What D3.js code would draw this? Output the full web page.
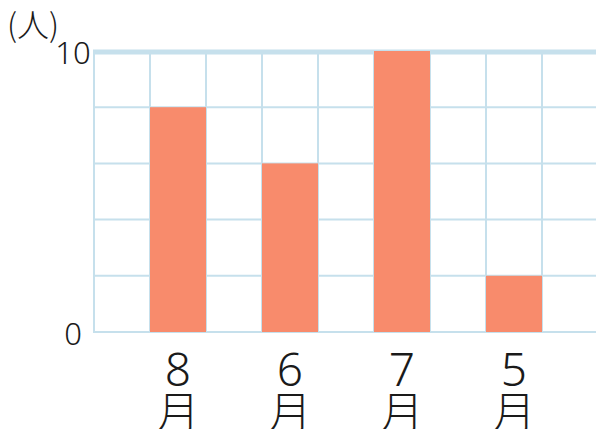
<!DOCTYPE html>
<html>
<head>
<meta charset="utf-8">
<script src="https://cdn.jsdelivr.net/npm/d3@7"></script>
<style>
  body { margin: 0; background: #fff; }
  text { font-family: "Noto Sans", "Noto Sans CJK JP", sans-serif; font-weight: 300; fill: #1a1a1a; }
  text.cjk { font-family: "Noto Sans CJK JP", sans-serif; }
</style>
</head>
<body>
<svg width="596" height="429" id="mainsvg"></svg>
<script>
    // data
    const months = ['8', '6', '7', '5'];
    const people = [8, 6, 10, 2];
    const yTicks = [0, 10];
    const yGrid = [0, 2, 4, 6, 8, 10];
    const unitLabel = '(人)';
    const monthSuffix = '月';

    const svg = d3.select('svg');
    const width = +svg.attr('width');

    const x = d3.scaleLinear().domain([0, 9]).range([94, 598]);
    const y = d3.scaleLinear().domain([0, 10]).range([332, 51]);
    const gridColor = '#c6e0ec';

    const grid = svg.append('g');
    // horizontal grid
    grid.selectAll('line.h').data(yGrid.filter(d => d < 10)).join('line')
        .attr('class', 'h')
        .attr('x1', x(0)).attr('x2', width)
        .attr('y1', d => y(d)).attr('y2', d => y(d))
        .attr('stroke', gridColor).attr('stroke-width', 2);
    // vertical grid
    grid.selectAll('line.v').data(d3.range(0, 9)).join('line')
        .attr('class', 'v')
        .attr('x1', d => x(d)).attr('x2', d => x(d))
        .attr('y1', y(10)).attr('y2', y(0) + 1)
        .attr('stroke', gridColor).attr('stroke-width', 2);
    // top thick line
    grid.append('line')
        .attr('x1', x(0) - 1).attr('x2', width)
        .attr('y1', y(10) + 1).attr('y2', y(10) + 1)
        .attr('stroke', gridColor).attr('stroke-width', 5);

    // bars
    svg.append('g').selectAll('rect').data(people).join('rect')
        .attr('x', (d, i) => x(2 * i + 1))
        .attr('width', x(2) - x(1))
        .attr('y', d => y(d))
        .attr('height', d => y(0) - y(d))
        .attr('fill', '#f88b6c');

    // y tick labels
    svg.append('g').selectAll('text').data(yTicks).join('text')
        .attr('x', 73)
        .attr('y', d => y(d) + 13)
        .attr('text-anchor', 'middle')
        .attr('font-size', 31)
        .text(d => d);

    svg.append('text')
        .attr('class', 'cjk')
        .attr('x', 7).attr('y', 37)
        .attr('font-size', 32)
        .text(unitLabel);

    // x labels: digit over 月
    const xl = svg.append('g').selectAll('g').data(months).join('g')
        .attr('transform', (d, i) => `translate(${x(2 * i + 1.5)},0)`);
    xl.append('text')
        .attr('y', 386)
        .attr('text-anchor', 'middle')
        .attr('font-size', 46)
        .text(d => d);
    xl.append('text')
        .attr('class', 'cjk')
        .attr('y', 428)
        .attr('text-anchor', 'middle')
        .attr('font-size', 43)
        .text(monthSuffix);
</script>
</body>
</html>
